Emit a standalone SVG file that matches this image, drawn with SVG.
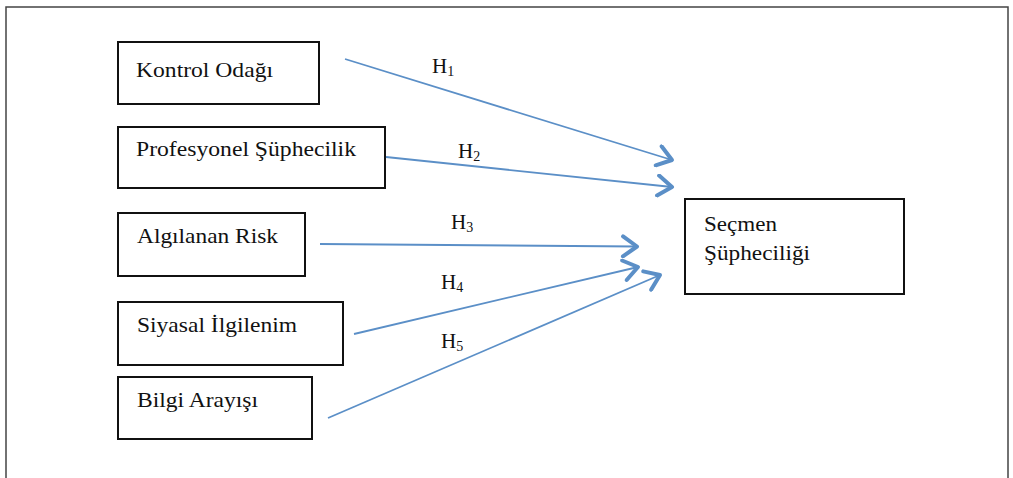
<svg xmlns="http://www.w3.org/2000/svg" width="1013" height="478" viewBox="0 0 1013 478">
<defs>
<style>
.box{fill:#fff;stroke:#111;stroke-width:2}
.lbl{font-family:"Liberation Serif","Times New Roman",serif;font-size:21px;fill:#111}
.h{font-family:"Liberation Serif","Times New Roman",serif;font-size:21px;fill:#111}
.sub{font-size:14px}
.con{stroke:#5B8FC7;stroke-width:1.8;fill:none;marker-end:url(#chev)}
</style>
<marker id="chev" viewBox="0 0 24 24" refX="21" refY="12" markerWidth="24" markerHeight="24" markerUnits="userSpaceOnUse" orient="auto">
<path d="M7,2 L21,12 L7,22" fill="none" stroke="#5B8FC7" stroke-width="4" stroke-linecap="round" stroke-linejoin="round"/>
</marker>
</defs>
<rect width="1013" height="478" fill="#fff"/>
<path d="M6,480 L6,7 L1008,7 L1008,480" fill="none" stroke="#444" stroke-width="1.5"/>
<g id="n1"><rect class="box" x="118" y="42" width="201" height="62"/><text class="lbl" x="136" y="77" textLength="137" lengthAdjust="spacingAndGlyphs">Kontrol Odağı</text></g>
<g id="n2"><rect class="box" x="118" y="127" width="267" height="61"/><text class="lbl" x="136" y="156" textLength="220" lengthAdjust="spacingAndGlyphs">Profesyonel Şüphecilik</text></g>
<g id="n3"><rect class="box" x="118" y="213" width="187" height="63"/><text class="lbl" x="137" y="243" textLength="141" lengthAdjust="spacingAndGlyphs">Algılanan Risk</text></g>
<g id="n4"><rect class="box" x="118" y="302" width="225" height="63"/><text class="lbl" x="137" y="332" textLength="160" lengthAdjust="spacingAndGlyphs">Siyasal İlgilenim</text></g>
<g id="n5"><rect class="box" x="118" y="377" width="194" height="62"/><text class="lbl" x="137" y="407" textLength="121" lengthAdjust="spacingAndGlyphs">Bilgi Arayışı</text></g>
<g id="n6"><rect class="box" x="685" y="199" width="219" height="95"/><text class="lbl" x="704" y="231" textLength="73" lengthAdjust="spacingAndGlyphs">Seçmen</text><text class="lbl" x="704" y="260" textLength="106" lengthAdjust="spacingAndGlyphs">Şüpheciliği</text></g>
<g id="connectors">
<line class="con" x1="345" y1="59" x2="672" y2="160"/>
<line class="con" x1="386" y1="157" x2="672" y2="187"/>
<line class="con" x1="320" y1="244" x2="637" y2="246.5"/>
<line class="con" x1="354" y1="334" x2="638" y2="267"/>
<line class="con" x1="328" y1="418" x2="660" y2="275"/>
<text class="h" x="432" y="73">H<tspan class="sub" dy="3">1</tspan></text>
<text class="h" x="458" y="158">H<tspan class="sub" dy="3">2</tspan></text>
<text class="h" x="451" y="229">H<tspan class="sub" dy="3">3</tspan></text>
<text class="h" x="441" y="289">H<tspan class="sub" dy="3">4</tspan></text>
<text class="h" x="441" y="348">H<tspan class="sub" dy="3">5</tspan></text>
</g>
</svg>
